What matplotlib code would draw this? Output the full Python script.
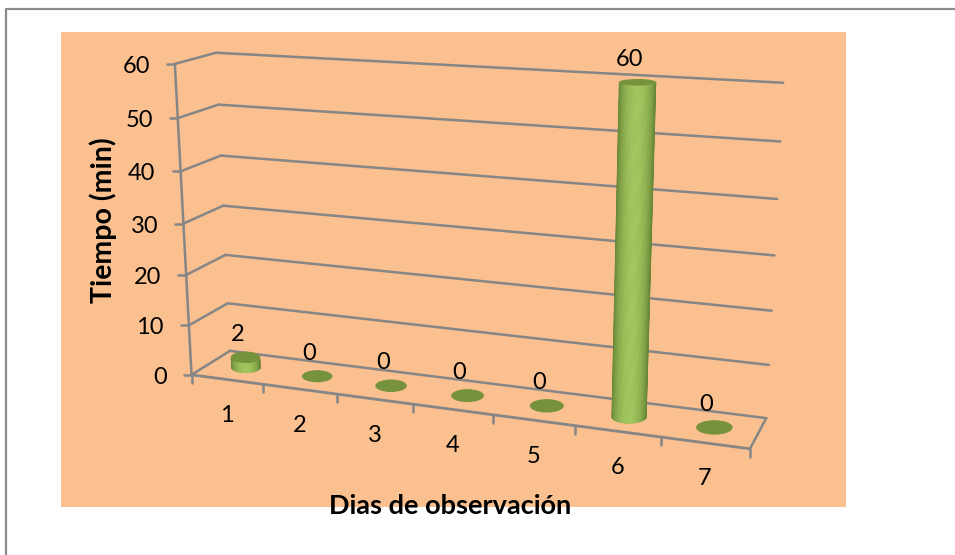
import matplotlib
matplotlib.use("Agg")
import matplotlib.pyplot as plt
from matplotlib.collections import PolyCollection
from matplotlib.patches import Ellipse, Polygon, Rectangle
import numpy as np

days = ["1", "2", "3", "4", "5", "6", "7"]
minutes = [2, 0, 0, 0, 0, 60, 0]
levels = [0, 10, 20, 30, 40, 50, 60]

x_title = "Dias de observación"
y_title = "Tiempo (min)"

GRID = "#868686"
PEACH = "#FAC090"
TOP = "#76923C"
LIGHT = np.array([0xA6, 0xCA, 0x62]) / 255
DARK = np.array([0x62, 0x80, 0x32]) / 255

plt.rcParams["font.family"] = ["Lato", "DejaVu Sans"]

# anchors of the perspective box: (day position, level, depth) -> canvas pixel
anchors = [
    (0, 0, 0, 192, 375), (0, 10, 0, 190, 325), (0, 20, 0, 186, 273), (0, 30, 0, 183, 223),
    (0, 40, 0, 180, 171), (0, 50, 0, 178, 118), (0, 60, 0, 175, 64),
    (0, 0, 1, 230, 351), (0, 10, 1, 228, 303), (0, 20, 1, 225, 255), (0, 30, 1, 223, 206),
    (0, 40, 1, 220, 156), (0, 50, 1, 218, 105), (0, 60, 1, 217, 53),
    (7, 0, 1, 766, 417), (7, 10, 1, 769, 365), (7, 20, 1, 772, 310), (7, 30, 1, 775, 255),
    (7, 40, 1, 778, 199), (7, 50, 1, 780, 142), (7, 60, 1, 783, 83),
    (7, 0, 0, 750, 448), (1, 0, 0, 263, 385), (2, 0, 0, 337, 395),
    (5, 0, 0, 575, 427), (6, 0, 0, 660, 438),
]


def fit_camera(points):
    rows = []
    for a, b, c, px, py in points:
        rows.append([a, b, c, 1, 0, 0, 0, 0, -px * a, -px * b, -px * c, -px])
        rows.append([0, 0, 0, 0, a, b, c, 1, -py * a, -py * b, -py * c, -py])
    # solve on a rescaled system so the pixel terms do not swamp the rest
    a = np.array(rows, dtype=float)
    sx = np.array([1 / 7, 1 / 60, 1, 1, 1 / 7, 1 / 60, 1, 1, 1 / 3500, 1 / 30000, 1 / 500, 1 / 500])
    _, _, vt = np.linalg.svd(a * sx)
    return (vt[-1] * sx).reshape(3, 4)


CAM = fit_camera(anchors)


def project(x, v, z):
    x, v, z = np.broadcast_arrays(np.asarray(x, float), np.asarray(v, float), np.asarray(z, float))
    h = CAM @ np.vstack([x.ravel(), v.ravel(), z.ravel(), np.ones(x.size)])
    return np.column_stack([h[0] / h[2], h[1] / h[2]])


def disc(i, level):
    # centre and half axes of a cylinder end, kept level on screen
    c = project(i + 0.5, level, 0.5)[0]
    rx = (project(i + 0.71, level, 0.5)[0][0] - project(i + 0.29, level, 0.5)[0][0]) / 2
    ry = (project(i + 0.5, level, 0.26)[0][1] - project(i + 0.5, level, 0.74)[0][1]) / 2
    return c, rx, ry


def seg(ax, a, b, lw=1.8, z=2):
    ax.plot([a[0], b[0]], [a[1], b[1]], color=GRID, lw=lw, zorder=z, solid_capstyle="round")


fig = plt.figure(figsize=(9.55, 5.55), dpi=100)
ax = fig.add_axes([0, 0, 1, 1])
ax.set_xlim(0, 955)
ax.set_ylim(555, 0)
ax.axis("off")

# outer frame and chart area
ax.plot([5.5, 5.5, 955], [555, 8.5, 8.5], color="#8C8C8C", lw=1.6, zorder=1)
ax.add_patch(Rectangle((61, 32), 785, 475, fc=PEACH, ec="none", zorder=1))

# walls
for lv in levels:
    fl = project(0, lv, 0)[0]
    bl = project(0, lv, 1)[0]
    br = project(7, lv, 1)[0]
    seg(ax, fl, bl)
    seg(ax, bl, br)
    seg(ax, fl, fl + [-8, 0])
    ax.text(fl[0] - 25, fl[1] + 2.5, str(lv), ha="right", va="center", fontsize=17, color="black", zorder=6)
seg(ax, project(0, 0, 0)[0], project(0, 60, 0)[0])

# floor edges, day ticks and day labels
seg(ax, project(0, 0, 0)[0], project(7, 0, 0)[0], lw=2, z=3)
seg(ax, project(7, 0, 0)[0], project(7, 0, 1)[0], z=3)
for i in range(8):
    p = project(i, 0, 0)[0]
    seg(ax, p, p + [0, 8], z=3)
for i, day in enumerate(days):
    p = project(i + 0.5, 0, 0)[0]
    ax.text(p[0], p[1] + 36, day, ha="center", va="center", fontsize=17, color="black", zorder=6)

# cylinders
for i, val in enumerate(minutes):
    c, rx, ry = disc(i, val)
    if val > 0:
        c0, rx0, ry0 = disc(i, 0)
        t = np.linspace(np.pi, 0, 61)
        bottom = np.column_stack([c0[0] + rx0 * np.cos(t), c0[1] + ry0 * np.sin(t)])
        upper = np.column_stack([c[0] + rx * np.cos(t), c[1] + ry * np.sin(t)])
        # plain silhouette under the shading keeps the long edges smooth
        outline = np.vstack([bottom, upper[::-1]])
        ax.add_patch(Polygon(outline, closed=True, fc=DARK, ec="none", zorder=3.5))
        quads, shades = [], []
        for k in range(4, 56):
            quads.append([bottom[k], bottom[k + 1], upper[k + 1], upper[k]])
            w = np.sin((t[k] + t[k + 1]) / 2) ** 1.6
            shades.append(DARK + (LIGHT - DARK) * w)
        bar = PolyCollection(quads, facecolors=shades, edgecolors=shades, linewidths=0.3, zorder=4)
        bar.set_snap(False)
        ax.add_collection(bar)
    ax.add_patch(Ellipse(c, 2 * rx, 2 * ry, fc=TOP, ec="none", zorder=5))
    ax.text(c[0] - 8, c[1] - 23, str(val), ha="center", va="center", fontsize=17, color="black", zorder=6)

# axis titles
ax.text(450.5, 505.5, x_title, ha="center", va="center", fontsize=19.5, fontweight="bold", color="black", zorder=6)
ax.text(103, 220, y_title, ha="center", va="center", rotation=90, fontsize=20.5, fontweight="bold", color="black", zorder=6)

fig.savefig("out.png", dpi=100)
